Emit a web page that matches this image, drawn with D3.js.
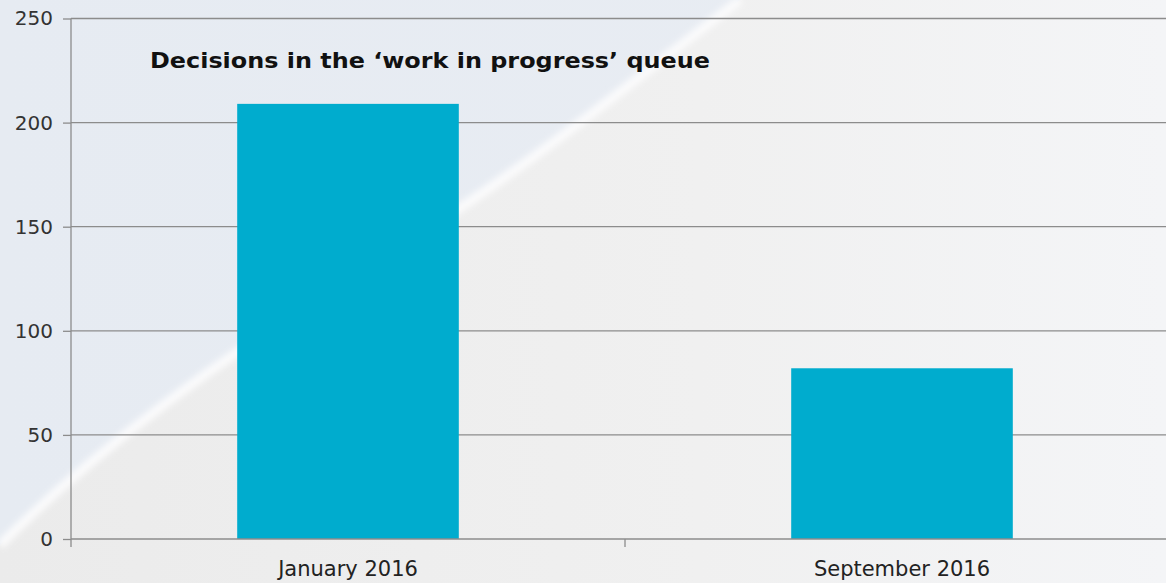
<!DOCTYPE html>
<html><head><meta charset="utf-8">
<script src="https://cdn.jsdelivr.net/npm/d3@7/dist/d3.min.js"></script>
<style>html,body{margin:0;padding:0;overflow:hidden;}svg{display:block;}</style>
</head><body>
<script>
const categories = ["January 2016", "September 2016"];
const values = [209, 82];
const yTicks = [0, 50, 100, 150, 200, 250];
const title = "Decisions in the \u2018work in progress\u2019 queue";

const W = 1166, H = 583;
const svg = d3.select("body").append("svg").attr("width", W).attr("height", H);

// background (decorative)
const defs = svg.append("defs");
const g1 = defs.append("linearGradient").attr("id","bg").attr("x1","0").attr("y1","0").attr("x2","1").attr("y2","0");
g1.append("stop").attr("offset","0").attr("stop-color","#e6ebf2");
g1.append("stop").attr("offset","1").attr("stop-color","#e9edf3");
const g2 = defs.append("linearGradient").attr("id","bg2").attr("x1","0").attr("y1","0").attr("x2","1").attr("y2","0");
g2.append("stop").attr("offset","0").attr("stop-color","#ebebeb");
g2.append("stop").attr("offset","0.6").attr("stop-color","#f0f0f0");
g2.append("stop").attr("offset","1").attr("stop-color","#f4f5f7");
defs.append("filter").attr("id","blur").append("feGaussianBlur").attr("stdDeviation",3);
svg.append("rect").attr("width",W).attr("height",H).attr("fill","url(#bg)");
const streak = [[0,545],[75,472],[240,345],[460,212],[600,108],[700,30],[740,0]];
const sl = d3.line().curve(d3.curveBasis);
svg.append("path").attr("d", sl(streak) + "L1166,0L1166,583L0,583Z").attr("fill","url(#bg2)");
svg.append("path").attr("d", sl(streak)).attr("fill","none").attr("stroke","#fbfbfc")
  .attr("stroke-width",9).attr("filter","url(#blur)");

const x = d3.scaleBand().domain(categories).range([71, 1179]).padding(0);
const y = d3.scaleLinear().domain([0, 250]).range([539, 18.5]);

// gridlines
svg.append("g").selectAll("line").data(yTicks.filter(d=>d>0)).join("line")
  .attr("x1",71).attr("x2",W).attr("y1",d=>y(d)).attr("y2",d=>y(d))
  .attr("stroke","#8c8c8c").attr("stroke-width",1.3);

// bars
const bw = x.bandwidth()*0.4;
svg.append("g").selectAll("rect").data(values).join("rect")
  .attr("x",(d,i)=>x(categories[i])+x.bandwidth()/2-bw/2)
  .attr("width",bw)
  .attr("y",d=>y(d)).attr("height",d=>y(0)-y(d))
  .attr("fill","#00acce");

// y axis
const yAxis = d3.axisLeft(y).tickValues(yTicks).tickSize(8).tickPadding(10);
const ya = svg.append("g").attr("transform","translate(71,0)").call(yAxis);
ya.select(".domain").attr("stroke","#8c8c8c").attr("stroke-width",1.3).attr("d","M0,18.5V547");
ya.selectAll(".tick line").attr("stroke","#8c8c8c").attr("stroke-width",1.3);
ya.selectAll(".tick text").attr("fill","#333").style("font-family","'DejaVu Sans', Verdana, sans-serif").style("font-size","20px");

// x axis
const xa = svg.append("g").attr("transform","translate(0,539)");
xa.append("line").attr("x1",71).attr("x2",W).attr("stroke","#8c8c8c").attr("stroke-width",1.3);
const bounds = categories.slice(1).map(c=>x(c));
xa.selectAll("line.sep").data(bounds).join("line").attr("class","sep")
  .attr("x1",d=>d).attr("x2",d=>d).attr("y1",0).attr("y2",8)
  .attr("stroke","#8c8c8c").attr("stroke-width",1.3);
xa.selectAll("text").data(categories).join("text")
  .attr("x",d=>x(d)+x.bandwidth()/2).attr("y",37)
  .attr("text-anchor","middle").attr("fill","#222")
  .style("font-family","'DejaVu Sans', Verdana, sans-serif").style("font-size","21px")
  .text(d=>d);

// title
svg.append("text").attr("x",150).attr("y",68)
  .attr("fill","#111").style("font-family","'DejaVu Sans', Verdana, sans-serif")
  .style("font-size","21px").style("font-weight","bold")
  .attr("textLength",560).attr("lengthAdjust","spacingAndGlyphs")
  .text(title);
</script>
</body></html>
